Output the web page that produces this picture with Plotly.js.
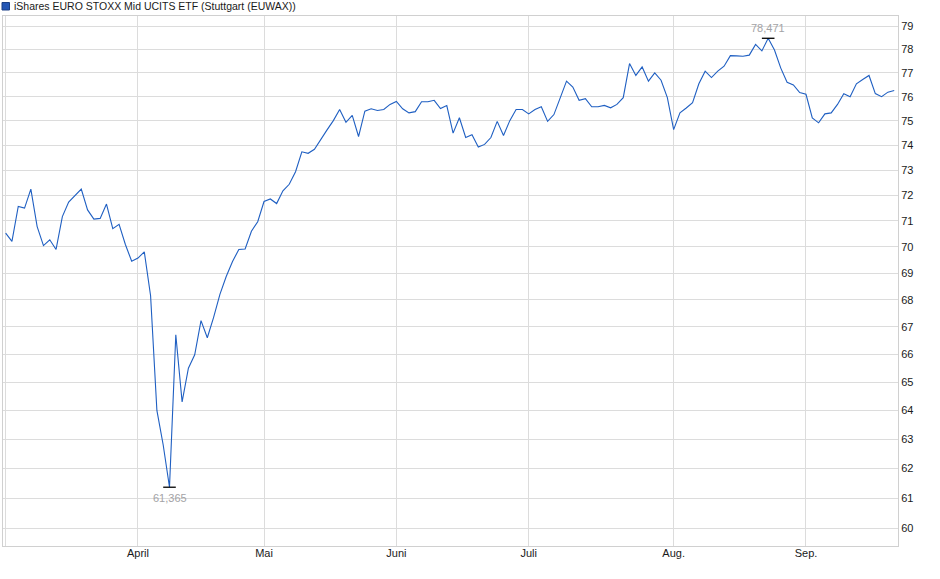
<!DOCTYPE html>
<html>
<head>
<meta charset="utf-8">
<script src="https://cdn.plot.ly/plotly-3.0.1.min.js"></script>
<style>
  html, body { margin: 0; padding: 0; background: #fff; }
  #chart { width: 940px; height: 579px; }
</style>
</head>
<body>
<div id="chart"></div>
<script>
const chartTitle = 'iShares EURO STOXX Mid UCITS ETF (Stuttgart (EUWAX))'

// trading days (2025) and closes
const marDays = [3,4,5,6,7,10,11,12,13,14,17,18,19,20,21,24,25,26,27,28,31]
const marClose = [70.53,70.21,71.57,71.50,72.25,70.78,70.05,70.27,69.90,71.17,71.74,71.99,72.25,71.43,71.07,71.10,71.66,70.70,70.87,70.09,69.45]

const aprDays = [1,2,3,4,7,8,9,10,11,14,15,16,17,22,23,24,25,28,29,30]
const aprClose = [69.57,69.81,68.15,64.00,62.80,61.365,66.71,64.30,65.50,65.98,67.23,66.60,67.35,68.20,68.87,69.44,69.90,69.92,70.60,70.97]

const mayDays = [2,5,6,7,8,9,12,13,14,15,16,19,20,21,22,23,26,27,28,29,30]
const mayClose = [71.76,71.86,71.68,72.18,72.44,72.94,73.74,73.68,73.84,74.25,74.63,75.01,75.47,74.94,75.23,74.36,75.40,75.50,75.43,75.47,75.68]

const junDays = [2,3,4,5,6,9,10,11,12,13,16,17,18,19,20,23,24,25,26,27,30]
const junClose = [75.80,75.50,75.33,75.38,75.79,75.79,75.85,75.51,75.63,74.50,75.13,74.32,74.43,73.93,74.04,74.32,74.98,74.40,75.01,75.47,75.47]

const julDays = [1,2,3,4,7,8,9,10,11,14,15,16,17,18,21,22,23,24,25,28,29,30,31]
const julClose = [75.29,75.47,75.58,74.98,75.26,75.95,76.65,76.40,75.85,75.92,75.58,75.58,75.64,75.54,75.68,75.96,77.39,76.89,77.25,76.65,77.00,76.69,75.96]

const augDays = [1,4,5,6,7,8,11,12,13,14,15,18,19,20,21,22,25,26,27,28,29]
const augClose = [74.64,75.33,75.53,75.75,76.54,77.07,76.80,77.07,77.28,77.73,77.72,77.70,77.75,78.21,77.93,78.471,77.97,77.20,76.60,76.49,76.17]

const sepDays = [1,2,3,4,5,8,9,10,11,12,15,16,17,18,19]
const sepClose = [76.10,75.12,74.92,75.29,75.33,75.68,76.12,76.00,76.54,76.72,76.89,76.13,76.00,76.19,76.26]

const monthTicks = ['2025-03-03','2025-04-01','2025-05-02','2025-06-02','2025-07-01','2025-08-01','2025-09-01']
const monthLabels = ['','April','Mai','Juni','Juli','Aug.','Sep.']
const priceTicks = [60,61,62,63,64,65,66,67,68,69,70,71,72,73,74,75,76,77,78,79]

function pad(n) { return String(n).padStart(2, '0') }

const months = [
    ['03', marDays, marClose], ['04', aprDays, aprClose], ['05', mayDays, mayClose],
    ['06', junDays, junClose], ['07', julDays, julClose], ['08', augDays, augClose],
    ['09', sepDays, sepClose]
]
let dates = []
let closes = []
months.forEach(([m, days, vals]) => {
    days.forEach((d, i) => {
        dates.push('2025-' + m + '-' + pad(d))
        closes.push(vals[i])
    })
})

const iMin = closes.indexOf(Math.min(...closes))
const iMax = closes.indexOf(Math.max(...closes))
const fmt = v => v.toFixed(3).replace('.', ',')

const font = 'Liberation Sans, Arial, sans-serif'
const labelGrey = '#a3a3a6'

const data = [{
    x: dates,
    y: closes,
    type: 'scatter',
    mode: 'lines',
    line: { color: '#1f5fc2', width: 1.1 },
    hoverinfo: 'skip'
}, {
    x: [dates[iMin], dates[iMax]],
    y: [closes[iMin], closes[iMax]],
    type: 'scatter',
    mode: 'markers',
    marker: { symbol: 'line-ew', size: 9, line: { color: '#000', width: 1.3 } },
    hoverinfo: 'skip'
}]

const layout = {
    width: 940,
    height: 579,
    showlegend: false,
    paper_bgcolor: '#fff',
    plot_bgcolor: '#fff',
    margin: { l: 3, r: 42, t: 16, b: 33, pad: 0 },
    font: { family: font, size: 11, color: '#1a1a1a' },
    title: {
        text: chartTitle,
        font: { family: font, size: 10.5, color: '#1a1a1a' },
        xref: 'container', yref: 'container',
        x: 14 / 940, xanchor: 'left',
        y: 1 - 6.5 / 579, yanchor: 'middle'
    },
    xaxis: {
        type: 'category',
        range: [-0.42, 141.6],
        tickmode: 'array',
        tickvals: monthTicks,
        ticktext: monthLabels,
        ticks: '',
        ticklabelstandoff: -3,
        showgrid: true,
        gridcolor: '#dcdcdc',
        gridwidth: 1,
        showline: true,
        mirror: true,
        linecolor: '#d0d0d0',
        linewidth: 1,
        zeroline: false,
        tickfont: { family: font, size: 11, color: '#1a1a1a' },
        automargin: false
    },
    yaxis: {
        type: 'log',
        side: 'right',
        range: [1.77394, 1.90001],
        tickmode: 'array',
        tickvals: priceTicks,
        ticktext: priceTicks.map(String),
        ticks: '',
        showgrid: true,
        gridcolor: '#dcdcdc',
        gridwidth: 1,
        showline: true,
        mirror: true,
        linecolor: '#d0d0d0',
        linewidth: 1,
        zeroline: false,
        tickfont: { family: font, size: 11, color: '#1a1a1a' },
        automargin: false
    },
    shapes: [{
        type: 'rect',
        xref: 'paper', yref: 'paper',
        x0: -1 / 895, x1: 6.5 / 895,
        y0: (546 - 10) / 530, y1: (546 - 2.5) / 530,
        fillcolor: '#2356b5',
        line: { color: '#1a3f85', width: 1 }
    }],
    annotations: [{
        x: dates[iMin], y: Math.log10(closes[iMin]),
        text: fmt(closes[iMin]),
        showarrow: false,
        yshift: -11,
        font: { family: font, size: 11, color: labelGrey }
    }, {
        x: dates[iMax], y: Math.log10(closes[iMax]),
        text: fmt(closes[iMax]),
        showarrow: false,
        yshift: 10,
        font: { family: font, size: 11, color: labelGrey }
    }]
}

Plotly.newPlot('chart', data, layout, { staticPlot: true, displayModeBar: false })
</script>
</body>
</html>
